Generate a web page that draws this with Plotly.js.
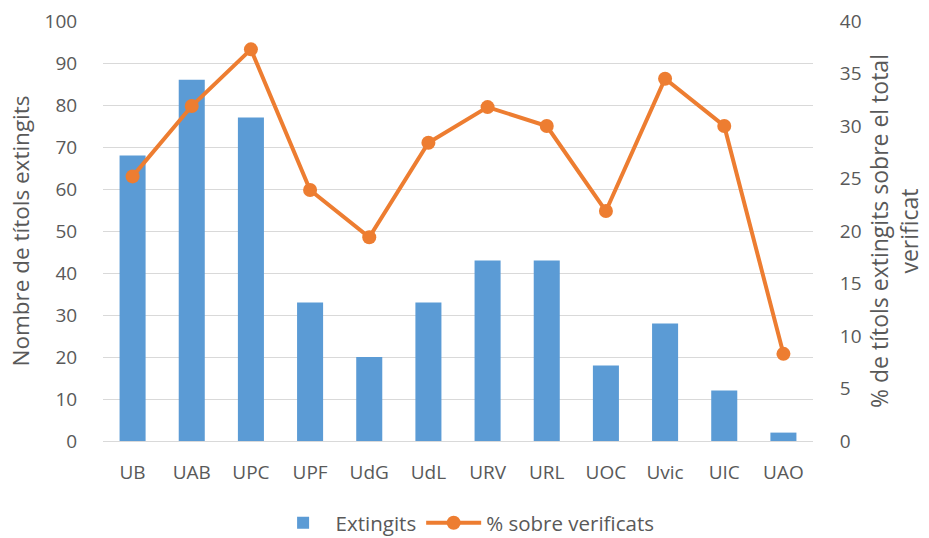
<!DOCTYPE html>
<html><head><meta charset="utf-8">
<script src="https://cdn.plot.ly/plotly-3.0.1.min.js"></script>
<style>html,body{margin:0;padding:0;background:#fff}#c{width:929px;height:538px}</style>
</head><body><div id="c"></div>
<script>
const categories = ["UB","UAB","UPC","UPF","UdG","UdL","URV","URL","UOC","Uvic","UIC","UAO"];
const extingits = [68,86,77,33,20,33,43,43,18,28,12,2];
const pctVerificats = [25.2,31.9,37.3,23.9,19.4,28.4,31.8,30.0,21.9,34.5,30.0,8.3];
const leftTicks = [0,10,20,30,40,50,60,70,80,90,100];
const rightTicks = [0,5,10,15,20,25,30,35,40];

const font = "'Open Sans', Lato, sans-serif";
const txt = "#595959";
const clear = "rgba(0,0,0,0)";
const traces = [
  {type:"bar", x:categories, y:extingits, name:"Extingits",
   marker:{color:"#5B9BD5"}},
  {type:"scatter", mode:"lines+markers", x:categories, y:pctVerificats, yaxis:"y2",
   name:"% sobre verificats", line:{color:"#ED7D31", width:4},
   marker:{color:"#ED7D31", size:14}}
];
const layout = {
  width:929, height:538,
  margin:{l:103, r:116, t:21, b:97, autoexpand:false},
  paper_bgcolor:"#fff", plot_bgcolor:"#fff",
  font:{family:font, size:19, color:txt},
  bargap:0.56,
  showlegend:true,
  legend:{orientation:"h", x:0.51, xanchor:"center", y:-0.195, yanchor:"middle",
    font:{size:20.5, color:txt}, itemwidth:55},
  xaxis:{range:[-0.5, 11.5], tickfont:{size:19, color:txt}, showgrid:false, zeroline:false, automargin:false,
    showline:false, ticks:"outside", ticklen:14, tickcolor:clear},
  yaxis:{range:[0,100], tickvals:leftTicks, showgrid:true, gridcolor:"#D9D9D9", automargin:false,
    gridwidth:1, zeroline:true, zerolinecolor:"#D9D9D9", zerolinewidth:1,
    tickfont:{size:19,color:txt}, ticks:"outside", ticklen:21, tickcolor:clear,
    title:{text:"Nombre de títols extingits", font:{size:22.5,color:txt}, standoff:8}},
  yaxis2:{range:[0,40], tickvals:rightTicks, overlaying:"y", side:"right", automargin:false,
    showgrid:false, zeroline:false, tickfont:{size:19,color:txt},
    ticks:"outside", ticklen:22, tickcolor:clear,
    title:{text:"% de títols extingits sobre el total<br>verificat", font:{size:23,color:txt}, standoff:11}}
};
Plotly.newPlot("c", traces, layout, {displayModeBar:false, staticPlot:true});
</script></body></html>
